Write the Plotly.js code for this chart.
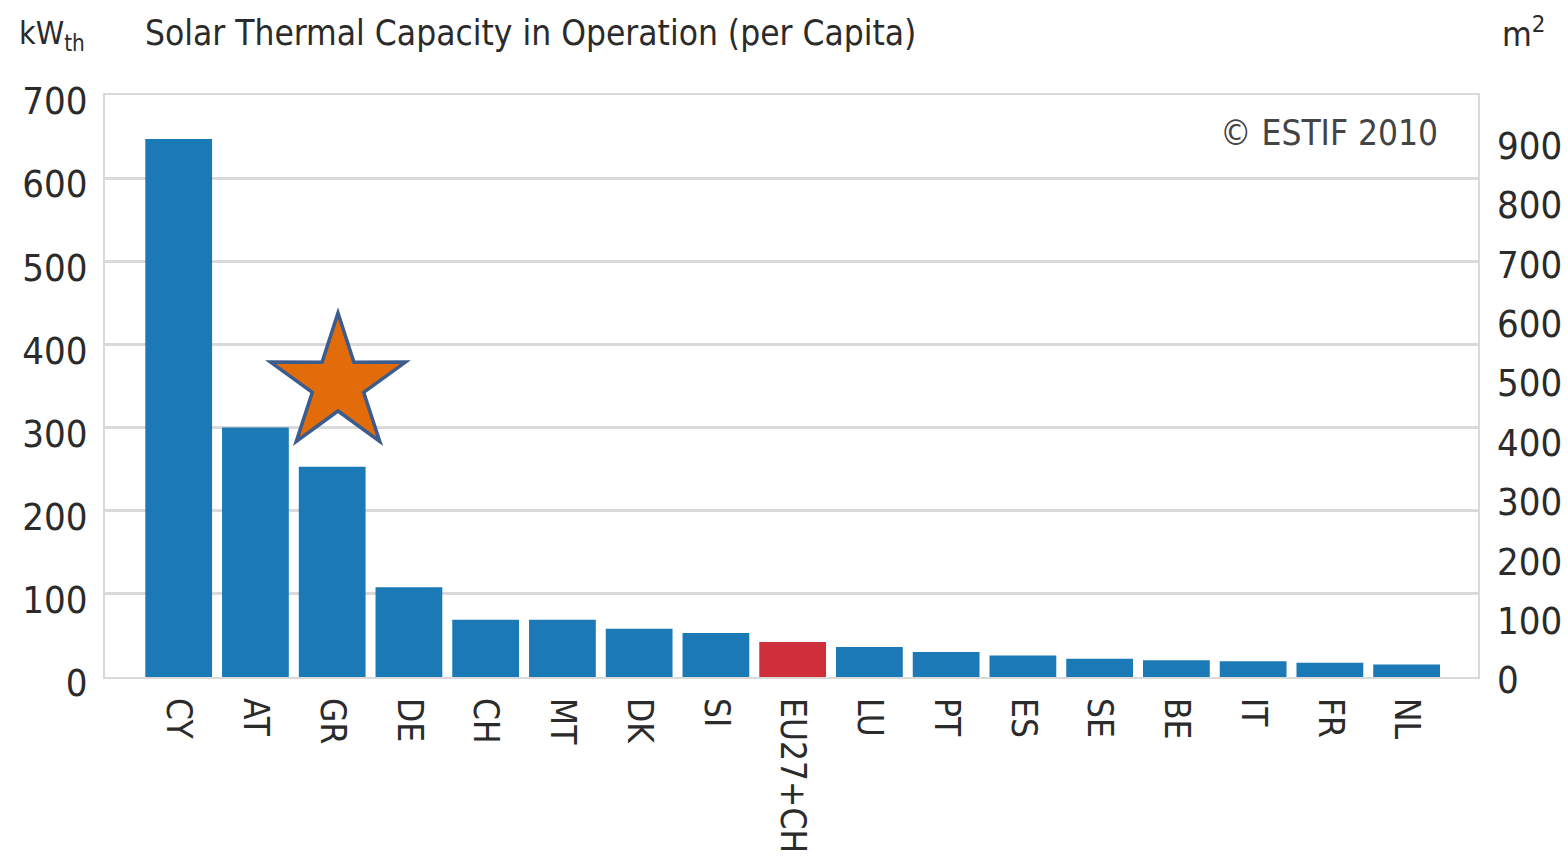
<!DOCTYPE html>
<html>
<head>
<meta charset="utf-8">
<script src="https://cdn.plot.ly/plotly-3.0.1.min.js"></script>
<style>
  html, body { margin: 0; padding: 0; background: #ffffff; }
  #chart { width: 1568px; height: 856px; }
</style>
</head>
<body>
<div id="chart"></div>
<script>
// Solar thermal capacity in operation per 1000 capita (kWth), 2009
const countries = ['CY', 'AT', 'GR', 'DE', 'CH', 'MT', 'DK', 'SI', 'EU27+CH',
                   'LU', 'PT', 'ES', 'SE', 'BE', 'IT', 'FR', 'NL'];
const capacityKw = [647, 300, 253, 108, 69, 69, 58, 53, 42,
                    36, 30, 26, 22, 20, 19, 17, 15];
const highlighted = 'EU27+CH';

const leftTicks = [0, 100, 200, 300, 400, 500, 600, 700];
const rightTicks = [0, 100, 200, 300, 400, 500, 600, 700, 800, 900];

const BLUE = '#1B7AB6';
const RED = '#CF2F3B';
const FONT = '"DejaVu Sans Condensed", "Liberation Sans Narrow", Arial, sans-serif';
const TEXT = '#2b2b2b';
const GRID = '#d9d9d9';

const barColors = countries.map(c => (c === highlighted ? RED : BLUE));

const bars = {
  type: 'bar',
  x: countries,
  y: capacityKw,
  marker: { color: barColors, line: { width: 0 } },
  hoverinfo: 'x+y',
  showlegend: false
};

// Empty companion trace so the m² axis is attached to the plot
const areaAxis = {
  type: 'scatter', x: [], y: [], yaxis: 'y2', showlegend: false, hoverinfo: 'skip'
};

// Five-pointed star drawn as a layout shape (paper coordinates)
function starPath(cx, cy, rOut, rIn, plotW, plotH) {
  const pts = [];
  for (let i = 0; i < 10; i++) {
    const r = i % 2 === 0 ? rOut : rIn;
    const a = -Math.PI / 2 + i * Math.PI / 5;
    const px = cx + (r * Math.cos(a)) / plotW;
    const py = cy - (r * Math.sin(a)) / plotH;
    pts.push((i === 0 ? 'M' : 'L') + px.toFixed(5) + ',' + py.toFixed(5));
  }
  return pts.join(' ') + ' Z';
}

const margin = { l: 105, r: 90, t: 95, b: 179 };
const plotW = 1568 - margin.l - margin.r;
const plotH = 856 - margin.t - margin.b;

const layout = {
  width: 1568,
  height: 856,
  margin: margin,
  paper_bgcolor: '#ffffff',
  plot_bgcolor: '#ffffff',
  bargap: 0.13,
  font: { family: FONT, color: TEXT, size: 38 },
  title: {
    text: 'Solar Thermal Capacity in Operation (per Capita)',
    font: { family: FONT, size: 35, color: TEXT },
    x: 145 / 1568, xanchor: 'left', xref: 'container',
    y: 1 - 33 / 856, yanchor: 'middle', yref: 'container'
  },
  xaxis: {
    type: 'category',
    range: [-0.96, 16.93],
    tickangle: 90,
    ticks: '',
    ticklabelstandoff: 12,
    tickfont: { family: FONT, size: 35, color: TEXT },
    showgrid: false,
    showline: true, mirror: true, linecolor: GRID, linewidth: 2,
    zeroline: false,
    fixedrange: true
  },
  yaxis: {
    range: [0, 700],
    tickvals: leftTicks,
    ticks: '',
    ticklabelstandoff: 8,
    ticklabelshift: 6,
    tickfont: { family: FONT, size: 38, color: TEXT },
    showgrid: true, gridcolor: GRID, gridwidth: 3,
    showline: true, mirror: true, linecolor: GRID, linewidth: 2,
    zeroline: false,
    fixedrange: true
  },
  yaxis2: {
    overlaying: 'y',
    side: 'right',
    range: [0, 980],
    tickvals: rightTicks,
    ticks: '',
    ticklabelstandoff: 18,
    ticklabelshift: 3,
    tickfont: { family: FONT, size: 38, color: TEXT },
    showgrid: false,
    showline: false,
    zeroline: false,
    fixedrange: true
  },
  annotations: [
    {
      text: 'kW<sub>th</sub>', xref: 'paper', yref: 'paper',
      x: -88 / plotW, y: 1 + 60 / plotH, xanchor: 'left', yanchor: 'middle',
      showarrow: false, font: { family: FONT, size: 32, color: TEXT }
    },
    {
      text: 'm<sup>2</sup>', xref: 'paper', yref: 'paper',
      x: 1 + 22 / plotW, y: 1 + 63 / plotH, xanchor: 'left', yanchor: 'middle',
      showarrow: false, font: { family: FONT, size: 34, color: TEXT }
    },
    {
      text: '© ESTIF 2010', xref: 'paper', yref: 'paper',
      x: 1 - 38 / plotW, y: 1 - 38 / plotH, xanchor: 'right', yanchor: 'middle',
      showarrow: false, font: { family: FONT, size: 35, color: '#444444' }
    }
  ],
  shapes: [
    {
      type: 'path', xref: 'paper', yref: 'paper', layer: 'above',
      path: starPath((338 - margin.l) / plotW, (856 - margin.b - 384) / plotH, 71, 27, plotW, plotH),
      fillcolor: '#E36C0A',
      line: { color: '#3B5C8C', width: 3.5 }
    }
  ]
};

Plotly.newPlot('chart', [bars, areaAxis], layout, { displayModeBar: false, staticPlot: true });
</script>
</body>
</html>
